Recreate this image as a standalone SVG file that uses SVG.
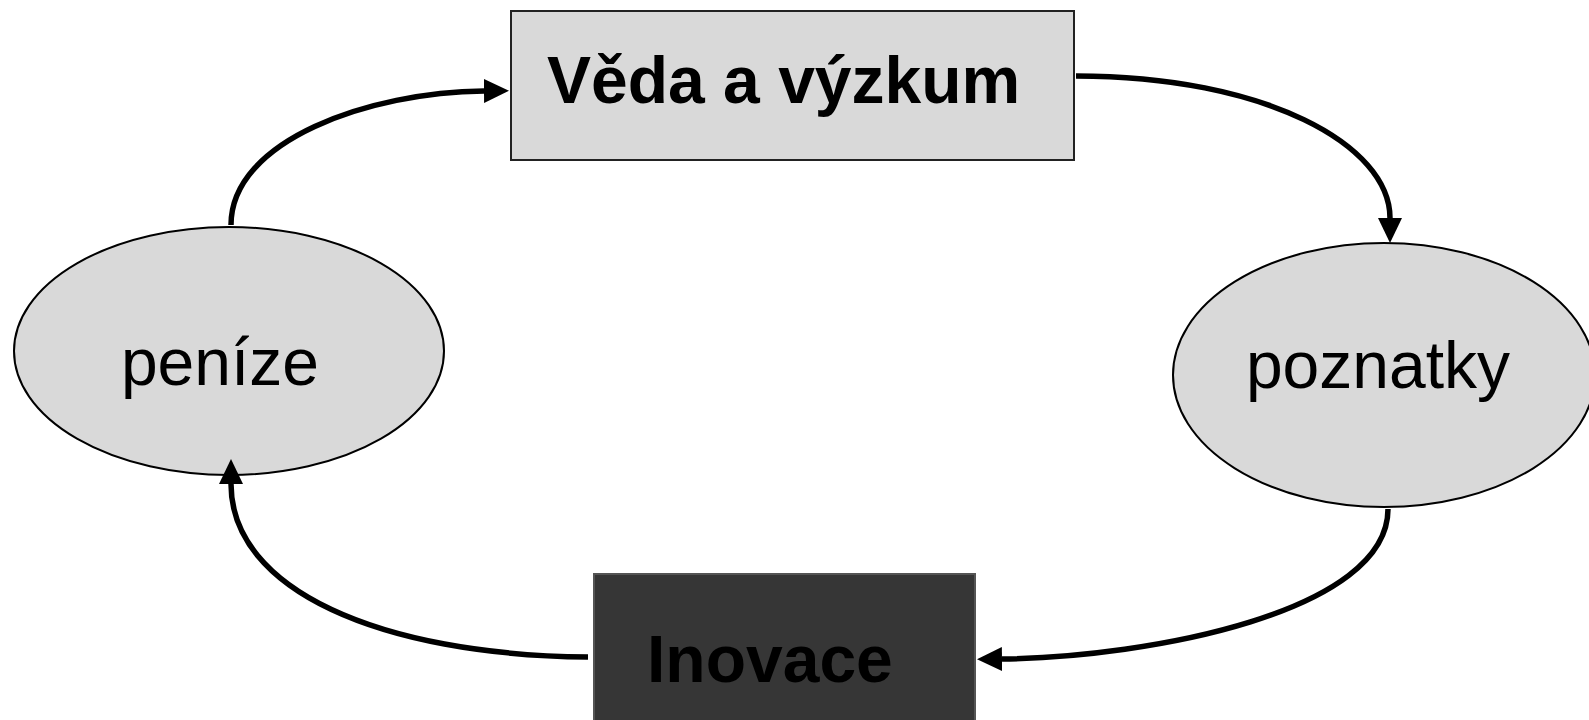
<svg xmlns="http://www.w3.org/2000/svg" width="1589" height="720" viewBox="0 0 1589 720">
<style>
.conn{fill:none;stroke:#000;stroke-width:5.5}
.ell{fill:#d9d9d9;stroke:#000;stroke-width:2}
.lbl{font-family:"Liberation Sans",Arial,sans-serif;font-size:66px;fill:#000}
.b{font-weight:bold}
</style>
<defs>
<marker id="ah" markerUnits="userSpaceOnUse" markerWidth="28" markerHeight="26" refX="0" refY="12" orient="auto" viewBox="0 0 28 26">
<path d="M0,0 L25,12 L0,24 z" fill="#000"/>
</marker>
</defs>
<rect width="1589" height="720" fill="#fff"/>
<g id="veda">
<rect x="511" y="11" width="563" height="149" fill="#d9d9d9" stroke="#222" stroke-width="2"/>
<text class="lbl b" x="547" y="103">Věda a výzkum</text>
</g>
<g id="inovace">
<rect x="594" y="574" width="381" height="150" fill="#363636" stroke="#555" stroke-width="2"/>
<text class="lbl b" x="647" y="682">Inovace</text>
</g>
<g id="penize">
<ellipse class="ell" cx="229" cy="351" rx="215" ry="124"/>
<text class="lbl" x="220" y="385" text-anchor="middle">peníze</text>
</g>
<g id="poznatky">
<ellipse class="ell" cx="1384" cy="375" rx="211" ry="132"/>
<text class="lbl" x="1378" y="388" text-anchor="middle">poznatky</text>
</g>
<g id="connectors">
<path class="conn" d="M1076 76 C1265 76 1390 145 1390 218" marker-end="url(#ah)"/>
<path class="conn" d="M1388 509 C1388 612 1150 657 1002 659" marker-end="url(#ah)"/>
<path class="conn" d="M588 657 C380 655 231 590 231 484" marker-end="url(#ah)"/>
<path class="conn" d="M231 225 C231 140 370 92 484 91" marker-end="url(#ah)"/>
</g>
</svg>
